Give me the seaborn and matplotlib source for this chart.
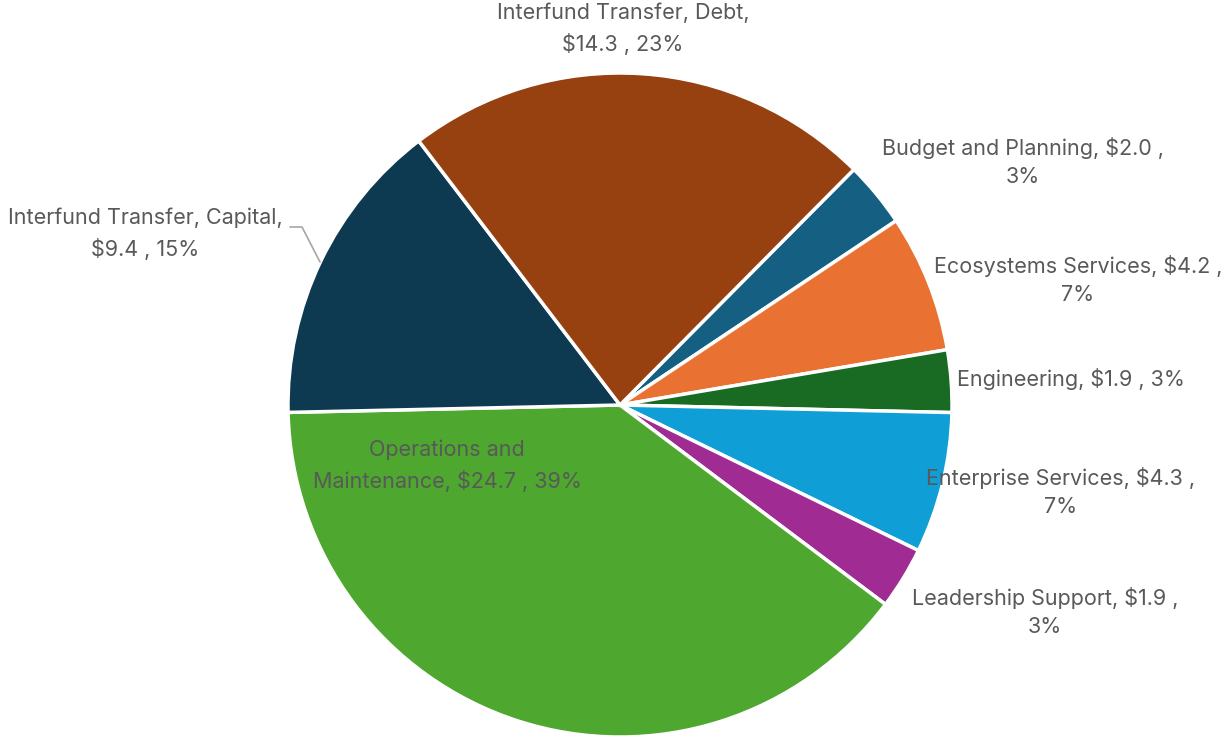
import matplotlib
matplotlib.use("Agg")
import matplotlib.pyplot as plt
import seaborn as sns
import numpy as np

sns.set_theme(style="white")
plt.rcParams['font.family'] = ['Inter', 'DejaVu Sans']

# Budget by program ($M), clockwise order
categories = ["Budget and Planning", "Ecosystems Services", "Engineering",
              "Enterprise Services", "Leadership Support",
              "Operations and Maintenance", "Interfund Transfer, Capital",
              "Interfund Transfer, Debt"]
values = [2.0, 4.2, 1.9, 4.3, 1.9, 24.7, 9.4, 14.3]
label_text = [
    "Budget and Planning, $2.0 ,\n3%",
    "Ecosystems Services, $4.2 ,\n7%",
    "Engineering, $1.9 , 3%",
    "Enterprise Services, $4.3 ,\n7%",
    "Leadership Support, $1.9 ,\n3%",
    "Operations and\nMaintenance, $24.7 , 39%",
    "Interfund Transfer, Capital,\n$9.4 , 15%",
    "Interfund Transfer, Debt,\n$14.3 , 23%",
]
colors = ["#156082", "#E97132", "#196B24", "#0F9ED5", "#A02B93",
          "#4EA72E", "#0E3A51", "#974010"]

# label centres in pixel space (origin bottom-left)
label_pos = [(1023, 738 - 162), (1078, 738 - 280), (1071, 738 - 379),
             (1061, 738 - 492), (1045, 738 - 612), (447, 738 - 466),
             (145, 738 - 234), (623, 738 - 29)]

W, H = 1221, 738
fig = plt.figure(figsize=(W / 100, H / 100), dpi=100)
ax = fig.add_axes([0, 0, 1, 1])

cx, cy, r = 620, 738 - 405, 332
ax.pie(values, colors=colors, startangle=90 - 44.8, counterclock=False,
       radius=r, center=(cx, cy), frame=True,
       wedgeprops=dict(edgecolor="white", linewidth=2.5))
ax.set_xlim(0, W)
ax.set_ylim(0, H)
ax.set_aspect("equal")
ax.axis("off")

for txt, (x, y) in zip(label_text, label_pos):
    ax.text(x, y, txt, ha="center", va="center", fontsize=15.5,
            color="#595959", linespacing=1.55)

# leader line for the capital transfer label
ax.plot([290, 302, 320], [738 - 227, 738 - 227, 738 - 262],
        color="#A6A6A6", lw=1.2)

fig.savefig("out.png", dpi=100)
